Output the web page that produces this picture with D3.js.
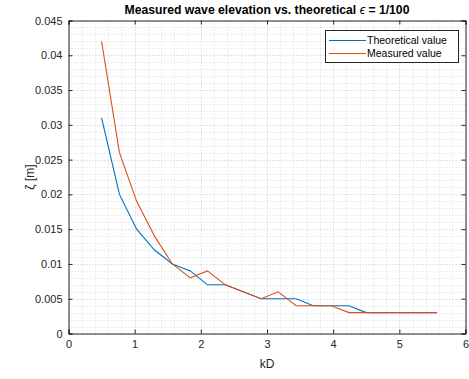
<!DOCTYPE html>
<html><head><meta charset="utf-8">
<script src="https://cdn.jsdelivr.net/npm/d3@7"></script>
<style>body{margin:0;background:#fff}svg{display:block;font-family:"Liberation Sans",Arial,sans-serif}</style>
</head><body><svg id="c" width="469" height="379"></svg>
<script>
const kD = [0.5,0.77,1.03,1.3,1.57,1.84,2.1,2.37,2.64,2.91,3.17,3.44,3.7,3.97,4.24,4.5,4.77,5.04,5.3,5.57];
const theoretical = [0.031,0.020,0.015,0.012,0.010,0.009,0.007,0.007,0.006,0.005,0.005,0.005,0.004,0.004,0.004,0.003,0.003,0.003,0.003,0.003];
const measured = [0.042,0.026,0.019,0.014,0.010,0.008,0.009,0.007,0.006,0.005,0.006,0.004,0.004,0.004,0.003,0.003,0.003,0.003,0.003,0.003];
const xTicks = [0,1,2,3,4,5,6];
const yTicks = [0,0.005,0.01,0.015,0.02,0.025,0.03,0.035,0.04,0.045];
const seriesNames = ["Theoretical value","Measured value"];
const colors = ["#0072BD","#D95319"];

const svg = d3.select("#c");
const L=68.5, R=465.5, T=20.5, B=333.5;
const x = d3.scaleLinear().domain([0,6]).range([L,R]);
const y = d3.scaleLinear().domain([0,0.045]).range([B,T]);
const ax = "#262626";

// minor grid
const g = svg.append("g");
d3.range(0,6.0001,0.2).forEach(v=>{
  g.append("line").attr("x1",Math.round(x(v))+0.5).attr("x2",Math.round(x(v))+0.5).attr("y1",T).attr("y2",B)
   .attr("stroke",xTicks.some(t=>Math.abs(t-v)<1e-6)?"#c8c8c8":"#dcdcdc").attr("stroke-dasharray","1,2");
});
d3.range(0,0.0450001,0.001).forEach(v=>{
  g.append("line").attr("y1",Math.round(y(v))+0.5).attr("y2",Math.round(y(v))+0.5).attr("x1",L).attr("x2",R)
   .attr("stroke",yTicks.some(t=>Math.abs(t-v)<1e-9)?"#c8c8c8":"#dcdcdc").attr("stroke-dasharray","1,2");
});

// lines
const line = d3.line().x((d,i)=>x(kD[i])).y(d=>y(d));
[theoretical,measured].forEach((s,i)=>{
  svg.append("path").attr("d",line(s)).attr("fill","none").attr("stroke",colors[i]).attr("stroke-width",1.1);
});

// axes
svg.append("g").attr("transform",`translate(0,${B})`)
  .call(d3.axisBottom(x).tickValues(xTicks).tickSize(-4).tickPadding(7).tickFormat(d3.format("d")));
svg.append("g").attr("transform",`translate(${L},0)`)
  .call(d3.axisLeft(y).tickValues(yTicks).tickSize(-4).tickPadding(6).tickFormat(d=>d===0?"0":String(+d.toFixed(3))));
svg.append("g").attr("transform",`translate(0,${T})`).call(d3.axisTop(x).tickValues(xTicks).tickSize(-4).tickFormat(""));
svg.append("g").attr("transform",`translate(${R},0)`).call(d3.axisRight(y).tickValues(yTicks).tickSize(-4).tickFormat(""));
svg.selectAll(".domain").attr("stroke",ax);
svg.selectAll(".tick line").attr("stroke",ax);
svg.selectAll(".tick text").attr("fill",ax).attr("font-size",11).attr("font-family","Liberation Sans, Arial, sans-serif");

// labels
const title = svg.append("text").attr("x",(L+R)/2).attr("y",14).attr("text-anchor","middle").attr("font-size",12.2).attr("font-weight","bold").attr("fill","#000");
title.append("tspan").text("Measured wave elevation vs. theoretical ");
title.append("tspan").attr("font-style","italic").attr("font-weight","normal").text("ϵ");
title.append("tspan").text(" = 1/100");
svg.append("text").attr("x",(L+R)/2).attr("y",368).attr("text-anchor","middle").attr("font-size",12).attr("fill",ax).text("kD");
svg.append("text").attr("transform",`translate(34,${(T+B)/2}) rotate(-90)`).attr("text-anchor","middle").attr("font-size",12).attr("fill",ax).text("ζ [m]");

// legend
const lg = svg.append("g");
lg.append("rect").attr("x",325.5).attr("y",30.5).attr("width",133).attr("height",32).attr("fill","#fff").attr("stroke",ax).attr("stroke-width",1);
seriesNames.forEach((n,i)=>{
  const yy = 40.5+i*13;
  lg.append("line").attr("x1",329).attr("x2",366).attr("y1",yy).attr("y2",yy).attr("stroke",colors[i]).attr("stroke-width",1.1);
  lg.append("text").attr("x",367).attr("y",yy+3.8).attr("font-size",10.5).attr("fill","#000").text(n);
});
</script></body></html>
